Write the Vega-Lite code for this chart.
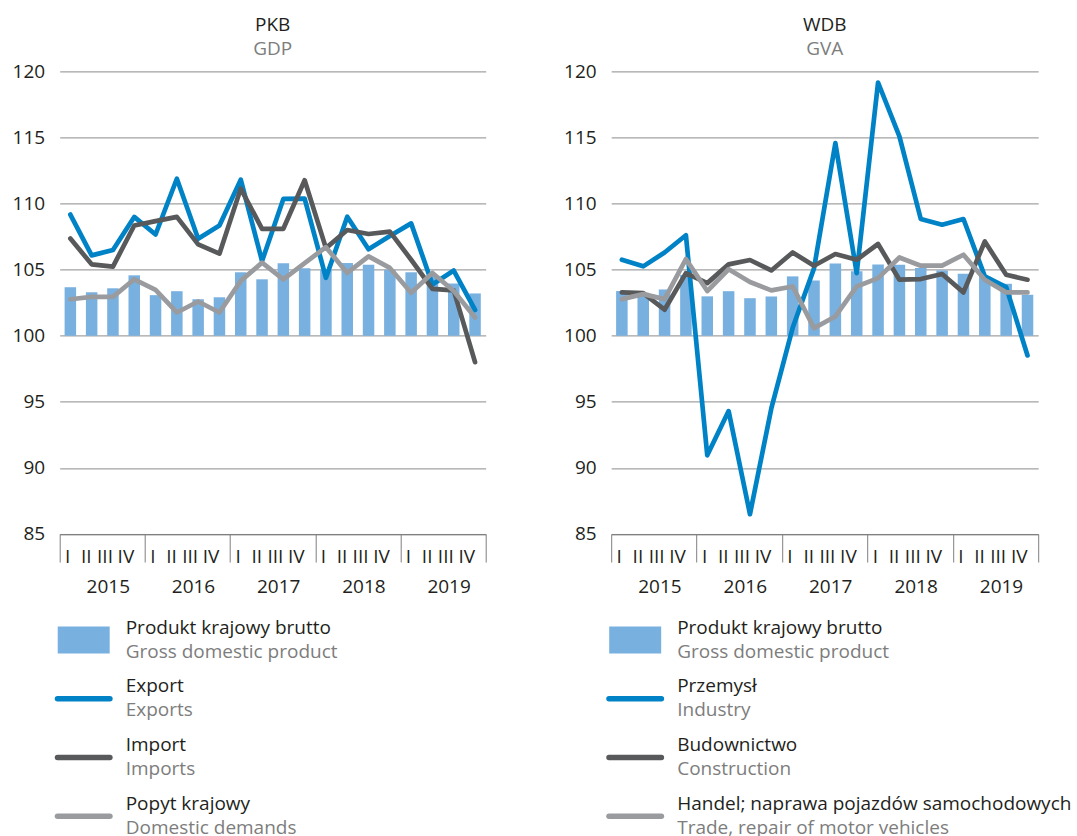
{
  "$schema": "https://vega.github.io/schema/vega-lite/v6.json",
  "autosize": {"type": "pad"},
  "padding": {"left": 11.7, "top": 16.4, "right": 5, "bottom": 0},
  "config": {
    "view": {"stroke": null},
    "font": "Open Sans",
    "axis": {"labelFont": "Open Sans", "labelFontSize": 19, "labelColor": "#231f20", "title": null},
    "text": {"font": "Open Sans"}
  },
  "datasets": {
    "pkb": [
      {"q": "2015 I", "gdp": 103.67, "exp": 109.17, "imp": 107.36, "dom": 102.76},
      {"q": "2015 II", "gdp": 103.29, "exp": 106.08, "imp": 105.40, "dom": 102.94},
      {"q": "2015 III", "gdp": 103.59, "exp": 106.48, "imp": 105.23, "dom": 102.94},
      {"q": "2015 IV", "gdp": 104.57, "exp": 108.99, "imp": 108.34, "dom": 104.27},
      {"q": "2016 I", "gdp": 103.07, "exp": 107.66, "imp": 108.67, "dom": 103.47},
      {"q": "2016 II", "gdp": 103.37, "exp": 111.88, "imp": 108.99, "dom": 101.76},
      {"q": "2016 III", "gdp": 102.76, "exp": 107.34, "imp": 106.91, "dom": 102.59},
      {"q": "2016 IV", "gdp": 102.91, "exp": 108.34, "imp": 106.21, "dom": 101.76},
      {"q": "2017 I", "gdp": 104.80, "exp": 111.81, "imp": 111.13, "dom": 104.15},
      {"q": "2017 II", "gdp": 104.27, "exp": 105.65, "imp": 108.09, "dom": 105.53},
      {"q": "2017 III", "gdp": 105.48, "exp": 110.35, "imp": 108.09, "dom": 104.27},
      {"q": "2017 IV", "gdp": 105.10, "exp": 110.38, "imp": 111.76, "dom": 105.50},
      {"q": "2018 I", "gdp": 105.00, "exp": 104.38, "imp": 106.63, "dom": 106.70},
      {"q": "2018 II", "gdp": 105.50, "exp": 109.00, "imp": 108.00, "dom": 104.75},
      {"q": "2018 III", "gdp": 105.38, "exp": 106.55, "imp": 107.70, "dom": 106.00},
      {"q": "2018 IV", "gdp": 105.00, "exp": 107.55, "imp": 107.88, "dom": 105.13},
      {"q": "2019 I", "gdp": 104.80, "exp": 108.50, "imp": 105.75, "dom": 103.25},
      {"q": "2019 II", "gdp": 104.55, "exp": 103.88, "imp": 103.55, "dom": 104.75},
      {"q": "2019 III", "gdp": 103.95, "exp": 104.93, "imp": 103.43, "dom": 103.38},
      {"q": "2019 IV", "gdp": 103.20, "exp": 101.95, "imp": 98.00, "dom": 101.38}
    ],
    "wdb": [
      {"q": "2015 I", "gva": 103.38, "ind": 105.75, "con": 103.28, "trd": 102.77},
      {"q": "2015 II", "gva": 103.25, "ind": 105.25, "con": 103.23, "trd": 103.15},
      {"q": "2015 III", "gva": 103.50, "ind": 106.30, "con": 101.97, "trd": 102.77},
      {"q": "2015 IV", "gva": 104.60, "ind": 107.60, "con": 104.74, "trd": 105.80},
      {"q": "2016 I", "gva": 102.98, "ind": 90.95, "con": 103.98, "trd": 103.38},
      {"q": "2016 II", "gva": 103.37, "ind": 94.30, "con": 105.40, "trd": 105.03},
      {"q": "2016 III", "gva": 102.84, "ind": 86.50, "con": 105.73, "trd": 104.07},
      {"q": "2016 IV", "gva": 102.97, "ind": 94.50, "con": 104.94, "trd": 103.43},
      {"q": "2017 I", "gva": 104.49, "ind": 100.60, "con": 106.30, "trd": 103.73},
      {"q": "2017 II", "gva": 104.18, "ind": 105.10, "con": 105.30, "trd": 100.58},
      {"q": "2017 III", "gva": 105.47, "ind": 114.58, "con": 106.18, "trd": 101.46},
      {"q": "2017 IV", "gva": 104.87, "ind": 104.74, "con": 105.75, "trd": 103.73},
      {"q": "2018 I", "gva": 105.39, "ind": 119.16, "con": 106.94, "trd": 104.36},
      {"q": "2018 II", "gva": 105.37, "ind": 115.08, "con": 104.24, "trd": 105.92},
      {"q": "2018 III", "gva": 105.12, "ind": 108.83, "con": 104.29, "trd": 105.30},
      {"q": "2018 IV", "gva": 104.94, "ind": 108.40, "con": 104.67, "trd": 105.30},
      {"q": "2019 I", "gva": 104.69, "ind": 108.83, "con": 103.28, "trd": 106.13},
      {"q": "2019 II", "gva": 104.49, "ind": 104.49, "con": 107.13, "trd": 104.24},
      {"q": "2019 III", "gva": 103.93, "ind": 103.68, "con": 104.61, "trd": 103.28},
      {"q": "2019 IV", "gva": 103.10, "ind": 98.51, "con": 104.24, "trd": 103.28}
    ],
    "years": [{"y": "2015"}, {"y": "2016"}, {"y": "2017"}, {"y": "2018"}, {"y": "2019"}],
    "legL": [
      {"k": 0, "kind": "bar", "pl": "Produkt krajowy brutto", "en": "Gross domestic product"},
      {"k": 1, "kind": "line", "pl": "Export", "en": "Exports"},
      {"k": 2, "kind": "line", "pl": "Import", "en": "Imports"},
      {"k": 3, "kind": "line", "pl": "Popyt krajowy", "en": "Domestic demands"}
    ],
    "legR": [
      {"k": 0, "kind": "bar", "pl": "Produkt krajowy brutto", "en": "Gross domestic product"},
      {"k": 1, "kind": "line", "pl": "Przemysł", "en": "Industry"},
      {"k": 2, "kind": "line", "pl": "Budownictwo", "en": "Construction"},
      {"k": 3, "kind": "line", "pl": "Handel; naprawa pojazdów samochodowych", "en": "Trade, repair of motor vehicles"}
    ]
  },
  "columns": 2,
  "spacing": {"row": 85.7, "column": 125.5},
  "bounds": "flush",
  "concat": [
    {
      "width": 426,
      "height": 462.6,
      "title": {"text": "PKB", "subtitle": "GDP", "fontSize": 19, "subtitleFontSize": 19, "font": "Open Sans", "subtitleFont": "Open Sans", "fontWeight": "normal", "color": "#231f20", "subtitleColor": "#7d7d7d", "anchor": "middle", "frame": "group", "offset": 3, "subtitlePadding": 5},
      "layer": [
        {
          "data": {"name": "pkb"},
          "encoding": {
            "x": {"field": "q", "type": "ordinal", "sort": null,
              "scale": {"type": "band", "paddingInner": 0.46, "paddingOuter": 0.23},
              "axis": {"orient": "bottom", "ticks": false, "tickSize": 0, "domain": false, "grid": false, "labelAngle": 0, "labelAlign": "right", "labelBaseline": "top", "labelPadding": 13.5, "labelOverlap": false, "labelExpr": "split(datum.label, ' ')[1]"}}
          },
          "layer": [
            {"mark": {"type": "bar", "color": "#78b0df"},
             "encoding": {
               "y": {"field": "gdp", "type": "quantitative", "scale": {"domain": [85, 120], "nice": false, "zero": false},
                 "axis": {"values": [85, 90, 95, 100, 105, 110, 115, 120], "grid": true, "gridColor": "#8c8c8c", "gridWidth": 1, "domain": false, "ticks": false, "labelPadding": 15}},
               "y2": {"datum": 100}}},
            {"mark": {"type": "line", "color": "#0082c6", "strokeWidth": 4.7, "strokeJoin": "round", "strokeCap": "round"},
             "encoding": {"y": {"field": "exp", "type": "quantitative", "scale": {"domain": [85, 120], "nice": false, "zero": false}}}},
            {"mark": {"type": "line", "color": "#58595b", "strokeWidth": 4.7, "strokeJoin": "round", "strokeCap": "round"},
             "encoding": {"y": {"field": "imp", "type": "quantitative", "scale": {"domain": [85, 120], "nice": false, "zero": false}}}},
            {"mark": {"type": "line", "color": "#9a9b9e", "strokeWidth": 4.7, "strokeJoin": "round", "strokeCap": "round"},
             "encoding": {"y": {"field": "dom", "type": "quantitative", "scale": {"domain": [85, 120], "nice": false, "zero": false}}}}
          ]
        },
        {
          "data": {"name": "years"},
          "mark": {"type": "point", "opacity": 0},
          "encoding": {
            "x": {"field": "y", "type": "ordinal", "scale": {"type": "band", "paddingInner": 0, "paddingOuter": 0},
              "axis": {"orient": "bottom", "tickBand": "extent", "ticks": true, "tickSize": 28, "tickColor": "#7f7f7f", "tickWidth": 1, "domain": true, "domainColor": "#7f7f7f", "grid": false, "labelAngle": 0, "labelBaseline": "top", "labelPadding": 16, "labelOffset": 5.5}}
          }
        }
      ],
      "resolve": {"scale": {"x": "independent"}, "axis": {"x": "independent"}}
    },
    {
      "width": 427,
      "height": 462.6,
      "title": {"text": "WDB", "subtitle": "GVA", "fontSize": 19, "subtitleFontSize": 19, "font": "Open Sans", "subtitleFont": "Open Sans", "fontWeight": "normal", "color": "#231f20", "subtitleColor": "#7d7d7d", "anchor": "middle", "frame": "group", "offset": 3, "subtitlePadding": 5},
      "layer": [
        {
          "data": {"name": "wdb"},
          "encoding": {
            "x": {"field": "q", "type": "ordinal", "sort": null,
              "scale": {"type": "band", "paddingInner": 0.46, "paddingOuter": 0.23},
              "axis": {"orient": "bottom", "ticks": false, "tickSize": 0, "domain": false, "grid": false, "labelAngle": 0, "labelAlign": "right", "labelBaseline": "top", "labelPadding": 13.5, "labelOverlap": false, "labelExpr": "split(datum.label, ' ')[1]"}}
          },
          "layer": [
            {"mark": {"type": "bar", "color": "#78b0df"},
             "encoding": {
               "y": {"field": "gva", "type": "quantitative", "scale": {"domain": [85, 120], "nice": false, "zero": false},
                 "axis": {"values": [85, 90, 95, 100, 105, 110, 115, 120], "grid": true, "gridColor": "#8c8c8c", "gridWidth": 1, "domain": false, "ticks": false, "labelPadding": 15}},
               "y2": {"datum": 100}}},
            {"mark": {"type": "line", "color": "#0082c6", "strokeWidth": 4.7, "strokeJoin": "round", "strokeCap": "round"},
             "encoding": {"y": {"field": "ind", "type": "quantitative", "scale": {"domain": [85, 120], "nice": false, "zero": false}}}},
            {"mark": {"type": "line", "color": "#58595b", "strokeWidth": 4.7, "strokeJoin": "round", "strokeCap": "round"},
             "encoding": {"y": {"field": "con", "type": "quantitative", "scale": {"domain": [85, 120], "nice": false, "zero": false}}}},
            {"mark": {"type": "line", "color": "#9a9b9e", "strokeWidth": 4.7, "strokeJoin": "round", "strokeCap": "round"},
             "encoding": {"y": {"field": "trd", "type": "quantitative", "scale": {"domain": [85, 120], "nice": false, "zero": false}}}}
          ]
        },
        {
          "data": {"name": "years"},
          "mark": {"type": "point", "opacity": 0},
          "encoding": {
            "x": {"field": "y", "type": "ordinal", "scale": {"type": "band", "paddingInner": 0, "paddingOuter": 0},
              "axis": {"orient": "bottom", "tickBand": "extent", "ticks": true, "tickSize": 28, "tickColor": "#7f7f7f", "tickWidth": 1, "domain": true, "domainColor": "#7f7f7f", "grid": false, "labelAngle": 0, "labelBaseline": "top", "labelPadding": 16, "labelOffset": 5.5}}
          }
        }
      ],
      "resolve": {"scale": {"x": "independent"}, "axis": {"x": "independent"}}
    },
    {
      "width": 426,
      "height": 200,
      "data": {"name": "legL"},
      "encoding": {
        "y": {"field": "k", "type": "ordinal", "scale": {"type": "point", "padding": 0, "domain": [0, 1, 2, 3], "range": [20, 196.1]}, "axis": null}
      },
      "layer": [
        {"transform": [{"filter": "datum.kind == 'bar'"}],
         "mark": {"type": "point", "shape": "M-1,-0.52H1V0.52H-1Z", "filled": true, "size": 2700, "opacity": 1, "color": "#78b0df"},
         "encoding": {"x": {"datum": "swatch", "type": "nominal", "scale": {"type": "point", "padding": 0, "domain": ["swatch", "text"], "range": [24, 66]}, "axis": null}}},
        {"transform": [{"filter": "datum.kind == 'line'"}],
         "mark": {"type": "point", "shape": "stroke", "filled": false, "size": 2746, "opacity": 1, "strokeWidth": 5.5, "strokeCap": "round"},
         "encoding": {
           "x": {"datum": "swatch", "type": "nominal", "scale": {"type": "point", "padding": 0, "domain": ["swatch", "text"], "range": [24, 66]}, "axis": null},
           "color": {"field": "pl", "type": "nominal", "legend": null,
             "scale": {"domain": ["Export", "Import", "Popyt krajowy", "Przemysł", "Budownictwo", "Handel; naprawa pojazdów samochodowych"], "range": ["#0082c6", "#58595b", "#9a9b9e", "#0082c6", "#58595b", "#9a9b9e"]}}}},
        {"mark": {"type": "text", "align": "left", "baseline": "alphabetic", "dy": -6.5, "fontSize": 19, "color": "#231f20"},
         "encoding": {"x": {"datum": "text", "type": "nominal", "scale": {"type": "point", "padding": 0, "domain": ["swatch", "text"], "range": [24, 66]}, "axis": null}, "text": {"field": "pl"}}},
        {"mark": {"type": "text", "align": "left", "baseline": "alphabetic", "dy": 17.5, "fontSize": 19, "color": "#7d7d7d"},
         "encoding": {"x": {"datum": "text", "type": "nominal", "scale": {"type": "point", "padding": 0, "domain": ["swatch", "text"], "range": [24, 66]}, "axis": null}, "text": {"field": "en"}}}
      ]
    },
    {
      "width": 427,
      "height": 200,
      "data": {"name": "legR"},
      "encoding": {
        "y": {"field": "k", "type": "ordinal", "scale": {"type": "point", "padding": 0, "domain": [0, 1, 2, 3], "range": [20, 196.1]}, "axis": null}
      },
      "layer": [
        {"transform": [{"filter": "datum.kind == 'bar'"}],
         "mark": {"type": "point", "shape": "M-1,-0.52H1V0.52H-1Z", "filled": true, "size": 2700, "opacity": 1, "color": "#78b0df"},
         "encoding": {"x": {"datum": "swatch", "type": "nominal", "scale": {"type": "point", "padding": 0, "domain": ["swatch", "text"], "range": [24, 66]}, "axis": null}}},
        {"transform": [{"filter": "datum.kind == 'line'"}],
         "mark": {"type": "point", "shape": "stroke", "filled": false, "size": 2746, "opacity": 1, "strokeWidth": 5.5, "strokeCap": "round"},
         "encoding": {
           "x": {"datum": "swatch", "type": "nominal", "scale": {"type": "point", "padding": 0, "domain": ["swatch", "text"], "range": [24, 66]}, "axis": null},
           "color": {"field": "pl", "type": "nominal", "legend": null,
             "scale": {"domain": ["Export", "Import", "Popyt krajowy", "Przemysł", "Budownictwo", "Handel; naprawa pojazdów samochodowych"], "range": ["#0082c6", "#58595b", "#9a9b9e", "#0082c6", "#58595b", "#9a9b9e"]}}}},
        {"mark": {"type": "text", "align": "left", "baseline": "alphabetic", "dy": -6.5, "fontSize": 19, "color": "#231f20"},
         "encoding": {"x": {"datum": "text", "type": "nominal", "scale": {"type": "point", "padding": 0, "domain": ["swatch", "text"], "range": [24, 66]}, "axis": null}, "text": {"field": "pl"}}},
        {"mark": {"type": "text", "align": "left", "baseline": "alphabetic", "dy": 17.5, "fontSize": 19, "color": "#7d7d7d"},
         "encoding": {"x": {"datum": "text", "type": "nominal", "scale": {"type": "point", "padding": 0, "domain": ["swatch", "text"], "range": [24, 66]}, "axis": null}, "text": {"field": "en"}}}
      ]
    }
  ]
}
